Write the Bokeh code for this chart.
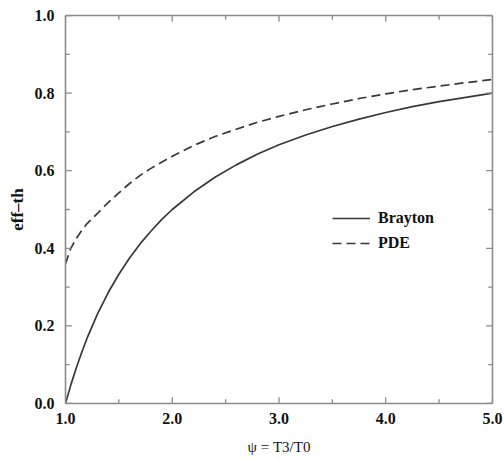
from bokeh.plotting import figure
from bokeh.models import Range1d, LinearAxis, FixedTicker, Legend, LegendItem
from bokeh.embed import file_html
from bokeh.resources import INLINE

# Data
psi = [1.0, 1.05, 1.1, 1.15, 1.2, 1.3, 1.4, 1.5, 1.6, 1.7, 1.8, 1.9, 2.0,
       2.2, 2.4, 2.6, 2.8, 3.0, 3.25, 3.5, 3.75, 4.0, 4.25, 4.5, 4.75, 5.0]
brayton = [0.0, 0.048, 0.091, 0.13, 0.167, 0.231, 0.286, 0.333, 0.375, 0.412, 0.444, 0.474, 0.5,
           0.545, 0.583, 0.615, 0.643, 0.667, 0.692, 0.714, 0.733, 0.75, 0.765, 0.778, 0.789, 0.8]
pde = [0.36, 0.40, 0.425, 0.445, 0.463, 0.49, 0.518, 0.543, 0.567, 0.588, 0.606, 0.622, 0.637,
       0.665, 0.688, 0.707, 0.725, 0.74, 0.757, 0.772, 0.786, 0.798, 0.809, 0.818, 0.827, 0.835]

x_min, x_max = 1, 5
y_min, y_max = 0, 1
x_ticks = [1, 2, 3, 4, 5]
x_minor = [1.5, 2.5, 3.5, 4.5]
x_tick_labels = ["1.0", "2.0", "3.0", "4.0", "5.0"]
y_ticks = [0.0, 0.2, 0.4, 0.6, 0.8, 1.0]
y_minor = [0.1, 0.3, 0.5, 0.7, 0.9]
y_tick_labels = ["0.0", "0.2", "0.4", "0.6", "0.8", "1.0"]

FONT = "Liberation Serif"
AXIS_COLOR = "#8c8c8c"
TICK_COLOR = "#8c8c8c"
LINE_COLOR = "#383838"

p = figure(width=504, height=460, output_backend="svg", toolbar_location=None,
           x_range=Range1d(x_min, x_max), y_range=Range1d(y_min, y_max),
           min_border_left=65, min_border_right=12, min_border_top=15, min_border_bottom=57)
p.outline_line_color = None
p.xgrid.visible = False
p.ygrid.visible = False
p.background_fill_color = "white"
p.border_fill_color = "white"

r1 = p.line(psi, brayton, line_color=LINE_COLOR, line_width=1.7)
r2 = p.line(psi, pde, line_color=LINE_COLOR, line_width=1.7, line_dash="9 5")

# inward tick marks on all four sides; lengths as fractions of the axis spans
x_span, y_span = x_max - x_min, y_max - y_min
for xs, frac in ((x_ticks, 0.016), (x_minor, 0.011)):
    n = len(xs)
    p.segment(xs, [y_min] * n, xs, [y_min + frac * y_span] * n, line_color=TICK_COLOR, line_width=1.3)
    p.segment(xs, [y_max] * n, xs, [y_max - frac * y_span] * n, line_color=TICK_COLOR, line_width=1.3)
for ys, frac in ((y_ticks, 0.015), (y_minor, 0.010)):
    n = len(ys)
    p.segment([x_min] * n, ys, [x_min + frac * x_span] * n, ys, line_color=TICK_COLOR, line_width=1.3)
    p.segment([x_max] * n, ys, [x_max - frac * x_span] * n, ys, line_color=TICK_COLOR, line_width=1.3)


def style_axis(ax, ticks, minor, labels=None, show_labels=True):
    ax.ticker = FixedTicker(ticks=ticks, minor_ticks=minor)
    ax.axis_line_color = AXIS_COLOR
    ax.axis_line_width = 1.6
    ax.major_tick_line_color = None
    ax.minor_tick_line_color = None
    ax.major_tick_in = 0
    ax.major_tick_out = 0
    ax.minor_tick_in = 0
    ax.minor_tick_out = 0
    ax.major_label_text_font = FONT
    ax.major_label_text_font_style = "bold"
    ax.major_label_text_font_size = "16px"
    ax.major_label_text_color = "#111111"
    if labels is not None:
        ax.major_label_overrides = {t: l for t, l in zip(ticks, labels)}
    if not show_labels:
        ax.major_label_text_color = None
        ax.major_label_standoff = 0


xa = p.xaxis[0]
style_axis(xa, x_ticks, x_minor, x_tick_labels)
xa.major_label_standoff = 9
xa.axis_label = "ψ = T3/T0"
xa.axis_label_text_font = FONT
xa.axis_label_text_font_style = "normal"
xa.axis_label_text_font_size = "15px"
xa.axis_label_text_color = "#111111"
xa.axis_label_standoff = 12

ya = p.yaxis[0]
style_axis(ya, y_ticks, y_minor, y_tick_labels)
ya.major_label_standoff = 11
ya.axis_label = "eff\u2013th"
ya.axis_label_text_font = FONT
ya.axis_label_text_font_style = "bold"
ya.axis_label_text_font_size = "17px"
ya.axis_label_text_color = "#111111"
ya.axis_label_standoff = 5

top = LinearAxis()
style_axis(top, x_ticks, x_minor, show_labels=False)
p.add_layout(top, "above")
right = LinearAxis()
style_axis(right, y_ticks, y_minor, show_labels=False)
p.add_layout(right, "right")

legend = Legend(items=[LegendItem(label="Brayton", renderers=[r1]),
                       LegendItem(label="PDE", renderers=[r2])],
                location=(267, 150))
legend.border_line_color = None
legend.background_fill_alpha = 0
legend.padding = 0
legend.margin = 0
legend.spacing = 5
legend.glyph_width = 38
legend.glyph_height = 20
legend.label_height = 20
legend.label_standoff = 8
legend.label_text_font = FONT
legend.label_text_font_style = "bold"
legend.label_text_font_size = "16px"
legend.label_text_color = "#111111"
p.add_layout(legend, "center")

open("out.html", "w").write(file_html(p, INLINE))
